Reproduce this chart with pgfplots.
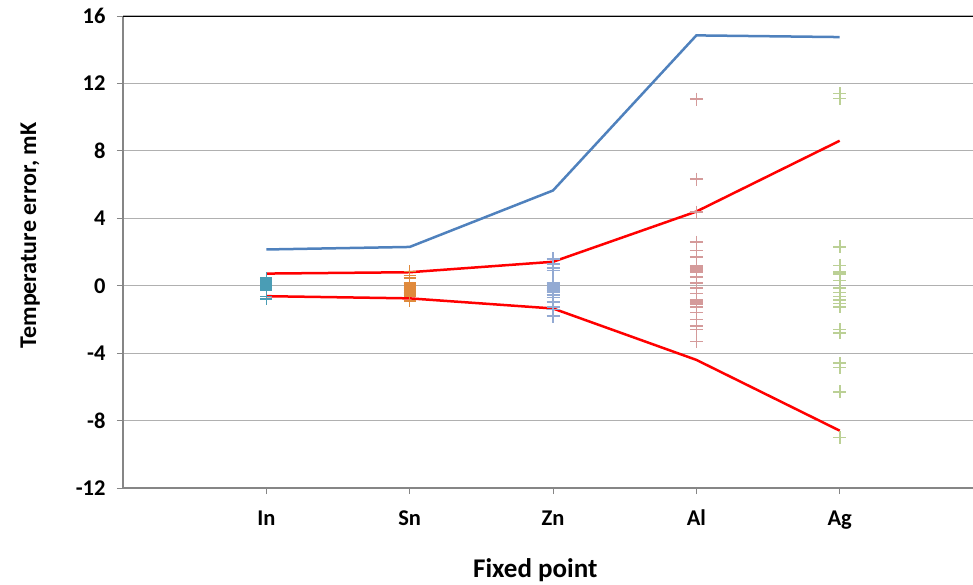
\documentclass[border=0pt]{standalone}
\usepackage{fontspec}
\setmainfont{Carlito}
\usepackage{pgfplots}
\pgfplotsset{compat=1.18}
\definecolor{axgray}{HTML}{868686}
\definecolor{gridgray}{HTML}{B0B0B0}
\definecolor{cIn}{HTML}{4A9DB5}
\definecolor{cSn}{HTML}{E08A3C}
\definecolor{cZn}{HTML}{93AAD3}
\definecolor{cAl}{HTML}{D49A9A}
\definecolor{cAg}{HTML}{BBD095}
\definecolor{cblue}{HTML}{4F81BD}
\begin{document}
\begin{tikzpicture}
\begin{axis}[
  at={(0,0)}, anchor=south west,
  scale only axis, width=850pt, height=472pt,
  xmin=-1, xmax=4.93, ymin=-12, ymax=16,
  axis x line*=bottom, axis y line*=left,
  axis line style={draw=axgray, line width=2pt},
  xtick={0,1,2,3,4}, xticklabels={In,Sn,Zn,Al,Ag},
  ytick={-12,-8,-4,0,4,8,12,16}, yticklabels={-12,-8,-4,0,4,8,12,16},
  ymajorgrids, grid style={gridgray, line width=1.2pt},
  tick style={axgray, line width=1pt}, major tick length=6pt, tick align=outside,
  ticklabel style={font=\fontsize{22.5}{26}\selectfont\bfseries},
  xticklabel style={anchor=base, yshift=-31pt},
  yticklabel style={anchor=east, xshift=-8pt},
  ylabel={Temperature error, mK}, xlabel={Fixed point},
  ylabel style={font=\fontsize{24}{28}\selectfont\bfseries, at={(axis description cs:-0.109,0.535)}, anchor=center},
  xlabel style={font=\fontsize{27}{30}\selectfont\bfseries, at={(axis description cs:0.485,0)}, anchor=center, yshift=-82pt},
  clip=true,
]
\addplot[only marks, mark=+, mark size=6pt, cIn, line width=1.6pt] coordinates {
(0,0.45)(0,0.35)(0,0.25)(0,0.15)(0,0.05)(0,-0.05)(0,-0.15)(0,-0.25)(0,-0.65)(0,-0.8)};
\addplot[only marks, mark=+, mark size=6pt, cSn, line width=1.6pt] coordinates {
(1,0.85)(1,0.6)(1,0.45)(1,0.2)(1,0.1)(1,0)(1,-0.1)(1,-0.2)(1,-0.3)(1,-0.4)(1,-0.5)(1,-0.6)(1,-0.9)};
\addplot[only marks, mark=+, mark size=6.5pt, cZn, line width=1.6pt] coordinates {
(2,1.6)(2,1.3)(2,1.05)(2,0.9)(2,0.2)(2,0.1)(2,0)(2,-0.1)(2,-0.2)(2,-0.3)(2,-0.4)(2,-0.55)(2,-0.7)(2,-0.95)(2,-1.25)(2,-1.4)(2,-1.8)};
\addplot[only marks, mark=+, mark size=6.5pt, cAl, line width=1.6pt] coordinates {
(3,11.07)(3,6.33)(3,4.37)(3,2.59)(3,2.1)(3,1.7)(3,1.2)(3,1.1)(3,1.0)(3,0.9)(3,0.8)(3,0.5)(3,0.15)(3,-0.15)(3,-0.45)(3,-0.85)(3,-0.9)(3,-1.0)(3,-1.1)(3,-1.26)(3,-1.6)(3,-2.0)(3,-2.4)(3,-2.6)(3,-3.3)};
\addplot[only marks, mark=+, mark size=6.5pt, cAg, line width=1.6pt] coordinates {
(4,11.4)(4,11.1)(4,2.3)(4,1.2)(4,0.8)(4,0.7)(4,0.3)(4,-0.15)(4,-0.4)(4,-0.65)(4,-0.85)(4,-1.05)(4,-1.25)(4,-2.6)(4,-2.8)(4,-4.6)(4,-4.85)(4,-6.3)(4,-9.0)};
\addplot[cblue, line width=2.5pt, mark=none] coordinates {
(0,2.15)(1,2.3)(2,5.65)(3,14.85)(4,14.75)};
\addplot[red, line width=2.5pt, mark=none] coordinates {
(0,0.72)(1,0.8)(2,1.42)(3,4.4)(4,8.6)};
\addplot[red, line width=2.5pt, mark=none] coordinates {
(0,-0.62)(1,-0.75)(2,-1.35)(3,-4.4)(4,-8.6)};
\draw[black, line width=2pt] (rel axis cs:0,1) -- (rel axis cs:1,1);
\end{axis}
\pgfresetboundingbox
\path (-123pt,-96pt) rectangle (850pt,488pt);
\end{tikzpicture}
\end{document}
